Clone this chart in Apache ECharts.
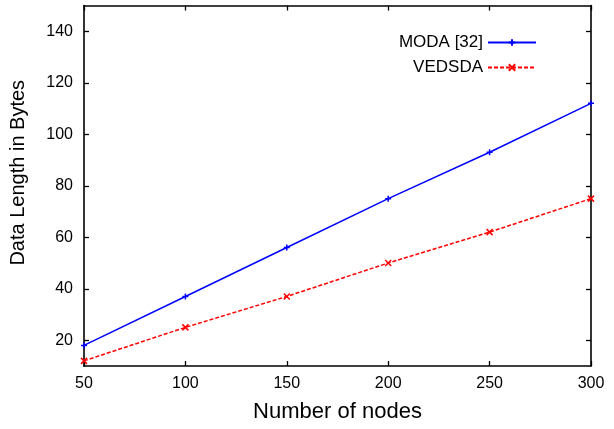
<!DOCTYPE html>
<html>
<head>
<meta charset="utf-8">
<style>
  html, body { margin: 0; padding: 0; background: #fff; }
  #main { width: 614px; height: 429px; }
</style>
</head>
<body>
    <div id='main'></div>
</body>
<script src="https://cdn.jsdelivr.net/npm/echarts@6/dist/echarts.min.js"></script>
<script>
var nodes = [50, 100, 150, 200, 250, 300];
var moda = [18, 37, 56, 75, 93, 112];
var vedsda = [12, 25, 37, 50, 62, 75];
var yTicks = [20, 40, 60, 80, 100, 120, 140];

var chartDom = document.getElementById('main');
var myChart = echarts.init(chartDom);
var option;

function pairs(ys) {
  return nodes.map(function (x, i) { return [x, ys[i]]; });
}

var fontFam = '"Liberation Sans", Arial, sans-serif';
var axisLine = { show: true, lineStyle: { color: '#000', width: 1.6 } };
var tick = { show: true, inside: true, length: 5, lineStyle: { color: '#000', width: 1.3 } };

option = {
  animation: false,
  textStyle: { fontFamily: fontFam },
  grid: { left: 83, right: 23, top: 5.5, bottom: 63 },
  legend: {
    orient: 'vertical',
    right: 72,
    top: 29,
    align: 'right',
    itemWidth: 48,
    itemHeight: 8,
    itemGap: 8,
    textStyle: { fontSize: 17, color: '#000', fontFamily: fontFam },
    data: ['MODA [32]', 'VEDSDA']
  },
  xAxis: [
    {
      type: 'value', min: 50, max: 300, interval: 50,
      name: 'Number of nodes', nameLocation: 'middle', nameGap: 35,
      nameTextStyle: { fontSize: 22, color: '#000' },
      axisLine: axisLine, axisTick: tick,
      axisLabel: { fontSize: 16, color: '#000', margin: 10 },
      splitLine: { show: false }
    },
    {
      type: 'value', min: 50, max: 300, interval: 50, position: 'top',
      axisLine: axisLine, axisTick: tick, axisLabel: { show: false },
      splitLine: { show: false }
    }
  ],
  yAxis: [
    {
      type: 'value', min: 10, max: 150,
      name: 'Data Length in Bytes', nameLocation: 'middle', nameGap: 56,
      nameTextStyle: { fontSize: 20, color: '#000', padding: [0, 0, 0, 26] },
      axisLine: axisLine,
      axisTick: Object.assign({ customValues: yTicks }, tick),
      axisLabel: { fontSize: 16, color: '#000', margin: 11, customValues: yTicks },
      splitLine: { show: false }
    },
    {
      type: 'value', min: 10, max: 150, position: 'right',
      axisLine: axisLine,
      axisTick: Object.assign({ customValues: yTicks }, tick),
      axisLabel: { show: false },
      splitLine: { show: false }
    }
  ],
  series: [
    {
      name: 'MODA [32]',
      type: 'line',
      data: pairs(moda),
      symbol: 'path://M0,5L10,5M5,0L5,10',
      symbolSize: 6,
      lineStyle: { color: '#0000ff', width: 1.5 },
      itemStyle: { color: '#0000ff', borderColor: '#0000ff', borderWidth: 1.5 }
    },
    {
      name: 'VEDSDA',
      type: 'line',
      data: pairs(vedsda),
      symbol: 'path://M0,0L10,10M10,0L0,10',
      symbolSize: 6,
      lineStyle: { color: '#ff0000', width: 1.5, type: [4, 2] },
      itemStyle: { color: '#ff0000', borderColor: '#ff0000', borderWidth: 1.5 }
    }
  ]
};

option && myChart.setOption(option);
</script>
</html>
